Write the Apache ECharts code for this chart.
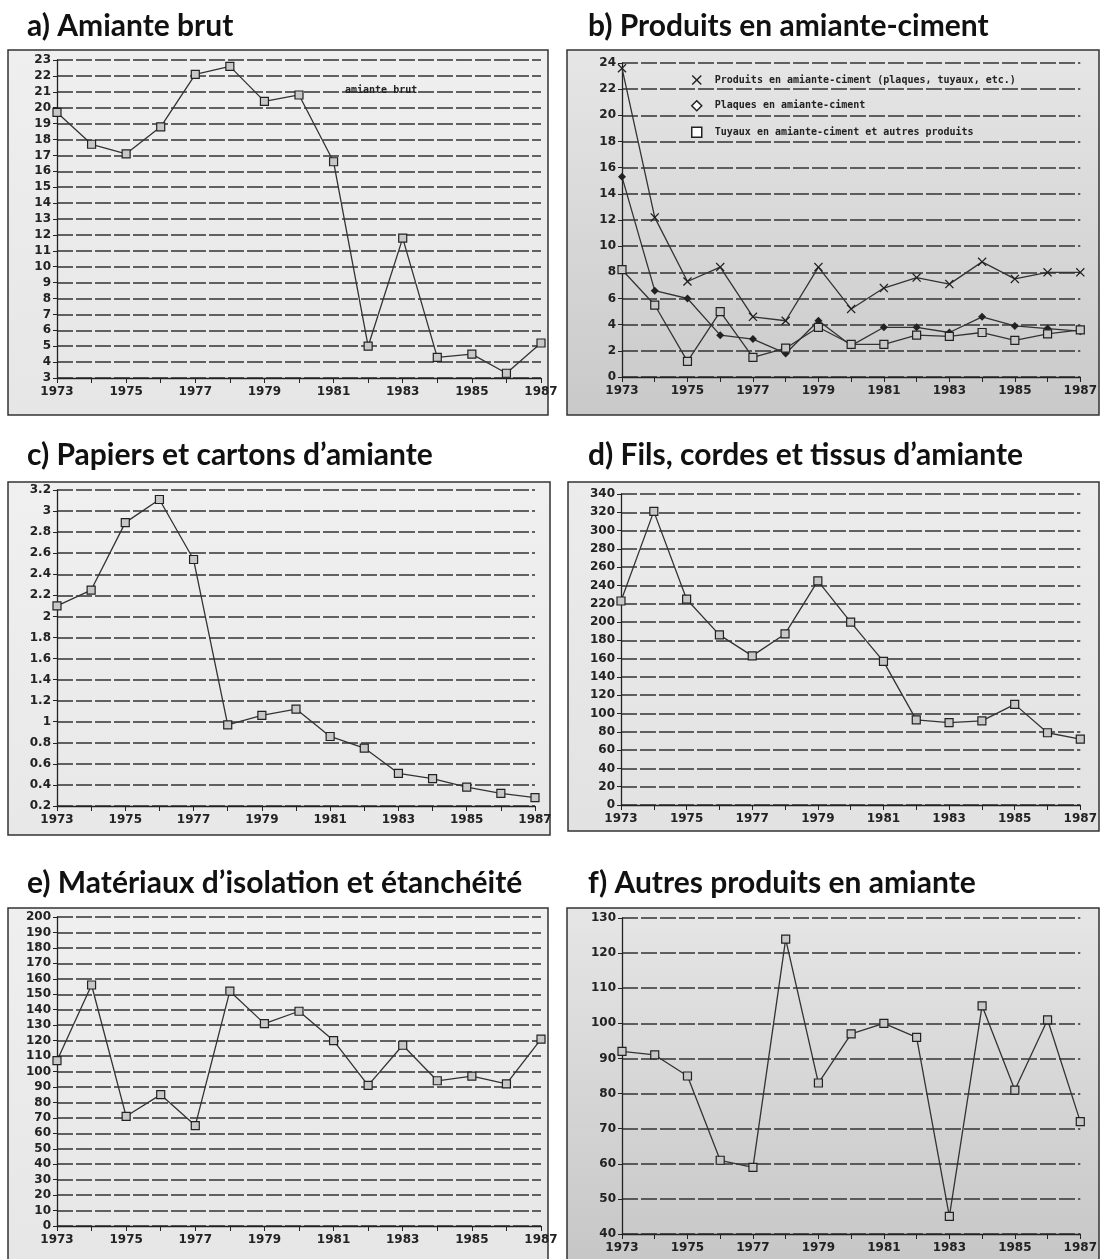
<!DOCTYPE html>
<html><head><meta charset="utf-8">
<script src="https://cdn.jsdelivr.net/npm/echarts@6/dist/echarts.min.js"></script>
<style>html,body{margin:0;padding:0;background:#fff;}#c{width:1100px;height:1259px;}</style>
</head><body><div id="c"></div>
<script>
// ---- data ----
const years = ['1973','1974','1975','1976','1977','1978','1979','1980','1981','1982','1983','1984','1985','1986','1987'];
const amianteBrut = [19.7,17.7,17.1,18.8,22.1,22.6,20.4,20.8,16.6,5.0,11.8,4.3,4.5,3.3,5.2];
const acProduits = [23.6,12.2,7.3,8.4,4.6,4.3,8.4,5.2,6.8,7.6,7.1,8.8,7.5,8.0,8.0];
const acPlaques = [15.3,6.6,6.0,3.2,2.9,1.8,4.3,2.4,3.8,3.8,3.4,4.6,3.9,3.7,3.5];
const acTuyaux = [8.2,5.5,1.2,5.0,1.5,2.2,3.8,2.5,2.5,3.2,3.1,3.4,2.8,3.3,3.6];
const papiers = [2.10,2.25,2.89,3.11,2.54,0.97,1.06,1.12,0.86,0.75,0.51,0.46,0.38,0.32,0.28];
const fils = [223,321,225,186,163,187,245,200,157,93,90,92,110,79,72];
const isolation = [107,156,71,85,65,152,131,139,120,91,117,94,97,92,121];
const autres = [92,91,85,61,59,124,83,97,100,96,45,105,81,101,72];
const panelTitles = ['a) Amiante brut','b) Produits en amiante-ciment','c) Papiers et cartons d\u2019amiante','d) Fils, cordes et tissus d\u2019amiante','e) Mat\u00e9riaux d\u2019isolation et \u00e9tanch\u00e9it\u00e9','f) Autres produits en amiante'];
const legendNames = ['Produits en amiante-ciment (plaques, tuyaux, etc.)','Plaques en amiante-ciment','Tuyaux en amiante-ciment et autres produits'];
const yMin = [3,0,0.2,0,0,40];
const yMax = [23,24,3.2,340,200,130];
const yStep = [1,2,0.2,20,10,10];

// ---- layout ----
const grids = [
  {left:57, top:60, width:484, height:318},
  {left:622, top:63, width:470, height:314},
  {left:57, top:490, width:478, height:316},
  {left:621, top:494, width:469, height:311},
  {left:57, top:917, width:484, height:309},
  {left:622, top:918, width:469, height:316}
];
function grad(a,b){return {type:'linear',x:0,y:0,x2:0,y2:1,colorStops:[{offset:0,color:a},{offset:1,color:b}]};}
const frames = [
  {x:8,y:50,w:540,h:365,fill:grad('#efefef','#e6e6e6')},
  {x:567,y:50,w:532,h:365,fill:grad('#e6e6e6','#c9c9c9')},
  {x:8,y:482,w:542,h:353,fill:grad('#f0f0f0','#e8e8e8')},
  {x:568,y:482,w:531,h:349,fill:grad('#ececec','#e2e2e2')},
  {x:8,y:908,w:540,h:360,fill:grad('#efefef','#e6e6e6')},
  {x:567,y:908,w:532,h:360,fill:grad('#e6e6e6','#c6c6c6')}
];
const titlePos = [[27,11],[588,11],[27,440],[588,440],[27,868],[588,868]];

const ink = '#222';
const axisFont = {fontFamily:'DejaVu Sans', fontWeight:'bold', fontSize:12, color:ink};

const xAxes = grids.map((g,i)=>({
  type:'category', gridIndex:i, data:years, boundaryGap:false,
  axisLine:{lineStyle:{color:ink,width:1.3}},
  axisTick:{show:true, interval:0, length:5, lineStyle:{color:ink}},
  axisLabel:Object.assign({interval:1, margin:8}, axisFont),
  splitLine:{show:false}
}));
const yAxes = grids.map((g,i)=>({
  type:'value', gridIndex:i, min:yMin[i], max:yMax[i], interval:yStep[i],
  axisLine:{show:true, lineStyle:{color:ink,width:1.3}},
  axisTick:{show:true, length:4, lineStyle:{color:ink}},
  axisLabel:Object.assign({margin:6, formatter:v=>String(+v.toFixed(2))}, axisFont),
  splitLine:{show:true, lineStyle:{color:'#333', width:1.5, type:[16,3]}}
}));

const sqStyle = {color:'#c8c8c8', borderColor:ink, borderWidth:1.2};
function sq(name, data, i){
  return {type:'line', name, data, xAxisIndex:i, yAxisIndex:i, symbol:'rect', symbolSize:8,
    itemStyle:sqStyle, lineStyle:{color:'#333', width:1.3}, animation:false};
}
const xPath = 'path://M0,1L1,0L5,4L9,0L10,1L6,5L10,9L9,10L5,6L1,10L0,9L4,5Z';

const series = [
  sq('amiante brut', amianteBrut, 0),
  {type:'line', name:legendNames[0], data:acProduits, xAxisIndex:1, yAxisIndex:1, symbol:xPath, symbolSize:9,
    itemStyle:{color:ink}, lineStyle:{color:'#333', width:1.3}, animation:false},
  {type:'line', name:legendNames[1], data:acPlaques, xAxisIndex:1, yAxisIndex:1, symbol:'diamond', symbolSize:8,
    itemStyle:{color:ink}, lineStyle:{color:'#333', width:1.3}, animation:false},
  sq(legendNames[2], acTuyaux, 1),
  sq('papiers', papiers, 2),
  sq('fils', fils, 3),
  sq('isolation', isolation, 4),
  sq('autres', autres, 5)
];

const graphics = frames.map(f=>({type:'rect', z:-10, shape:{x:f.x,y:f.y,width:f.w,height:f.h},
  style:{fill:f.fill, stroke:'#333', lineWidth:1.5}}));
graphics.push({type:'text', z:5, left:345, top:85, style:{text:'amiante brut', fill:ink,
  font:'bold 10px "DejaVu Sans Mono"'}});

const option = {
  backgroundColor:'#fff',
  animation:false,
  title: panelTitles.map((t,i)=>({text:t, left:titlePos[i][0], top:titlePos[i][1], padding:0,
    textStyle:{fontFamily:'Lato', fontWeight:'bold', fontSize:30, color:'#111'}})),
  grid: grids,
  xAxis: xAxes,
  yAxis: yAxes,
  legend: {
    orient:'vertical', left:686, top:70, itemGap:15, itemWidth:10, itemHeight:10,
    selectedMode:false,
    textStyle:{fontFamily:'DejaVu Sans Mono', fontWeight:'bold', fontSize:10, color:ink, padding:[0,0,0,8]},
    data:[
      {name:legendNames[0], icon:xPath, itemStyle:{color:ink}},
      {name:legendNames[1], icon:'diamond', itemStyle:{color:'#fff', borderColor:ink, borderWidth:1.5}},
      {name:legendNames[2], icon:'rect', itemStyle:{color:'#fff', borderColor:ink, borderWidth:1.5}}
    ]
  },
  graphic: graphics,
  series: series
};
const chart = echarts.init(document.getElementById('c'), null, {renderer:'canvas'});
chart.setOption(option);
</script></body></html>
